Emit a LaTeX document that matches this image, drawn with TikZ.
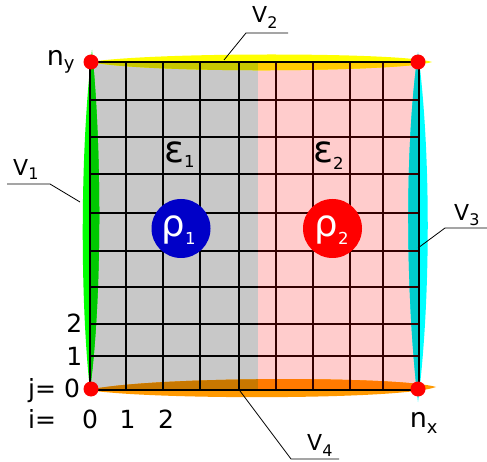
\documentclass[tikz,border=0pt]{standalone}
\usepackage{fontspec}
\setmainfont{DejaVu Sans}
\definecolor{cgray}{RGB}{200,200,200}
\definecolor{cpink}{RGB}{255,204,204}
\definecolor{cbrown}{RGB}{51,0,0}
\definecolor{gout}{RGB}{0,255,0}
\definecolor{ggray}{RGB}{0,200,0}
\definecolor{cout}{RGB}{0,255,255}
\definecolor{cpk}{RGB}{0,204,204}
\definecolor{yout}{RGB}{255,255,0}
\definecolor{ygray}{RGB}{200,200,0}
\definecolor{ypk}{RGB}{255,204,0}
\definecolor{oout}{RGB}{255,153,0}
\definecolor{ogray}{RGB}{200,120,0}
\definecolor{opk}{RGB}{255,122,0}
\definecolor{cblue}{RGB}{0,0,200}
\definecolor{cred}{RGB}{255,0,0}
\newcommand\fs[1]{\fontsize{#1}{#1}\selectfont}
\newcommand\mysub[3]{\raisebox{-#1pt}{\fs{#2}#3}}
\def\pgreen{(92,50) .. controls (80,150) and (80,300) .. (90,390) .. controls (102,300) and (102,150) .. (92,50) -- cycle}
\def\pcyan{(418,52) .. controls (404,150) and (406,300) .. (418,402) .. controls (431,300) and (431,150) .. (418,52) -- cycle}
\def\pyellow{(90,62) .. controls (150,52) and (400,52) .. (432,62) .. controls (400,72) and (150,74) .. (90,62) -- cycle}
\def\porange{(88,390) .. controls (150,376) and (400,376) .. (436,387) .. controls (400,400) and (150,400) .. (88,390) -- cycle}
\tikzset{
  gl/.style={line width=1.8pt, black},
  glp/.style={line width=1.8pt, cbrown},
  leader/.style={line width=0.8pt, black},
  lbl/.style={inner sep=0pt, anchor=base west},
  dot/.style={circle, fill=cred, minimum size=15pt, inner sep=0pt},
}
\begin{document}
\begin{tikzpicture}[x=1pt,y=-1pt]
\useasboundingbox (0,0) rectangle (487,462);
% regions
\fill[cgray] (90,62) rectangle (258,390);
\fill[cpink] (258,62) rectangle (418,390);
% bands
\fill[gout] \pgreen;
\fill[cout] \pcyan;
\fill[yout] \pyellow;
\fill[oout] \porange;
\begin{scope}
\clip (90,62) rectangle (258,390);
\fill[ggray] \pgreen;
\fill[ygray] \pyellow;
\fill[ogray] \porange;
\end{scope}
\begin{scope}
\clip (258,62) rectangle (418,390);
\fill[cpk] \pcyan;
\fill[ypk] \pyellow;
\fill[opk] \porange;
\end{scope}
% grid
\foreach \y in {100,137,174,213,251,287,324,356} {
  \draw[gl] (90,\y) -- (258,\y);
  \draw[glp] (258,\y) -- (418,\y);
}
\foreach \x in {126,163,200,239} \draw[gl] (\x,62) -- (\x,390);
\foreach \x in {276,313,350,383} \draw[glp] (\x,62) -- (\x,390);
\draw[gl] (90,62) -- (90,390);
\draw[gl] (419,62) -- (419,390);
\draw[gl] (90,62) -- (419,62);
\draw[gl] (90,390) -- (419,390);
% densities
\node[circle, fill=cblue, minimum size=59pt, inner sep=0pt] (rho1) at (181,228.5) {};
\node[circle, fill=cred, minimum size=59pt, inner sep=0pt] (rho2) at (332.5,228.5) {};
\node[lbl, text=white] (rho1t) at (161.5,237) {\fs{37}ρ\mysub{8}{16.5}{1}};
\node[lbl, text=white] (rho2t) at (314.5,237) {\fs{37}ρ\mysub{8}{16.5}{2}};
\node[lbl] (eps1) at (164,163) {\fs{37}ε\mysub{5}{16.5}{1}};
\node[lbl] (eps2) at (313,163) {\fs{37}ε\mysub{7}{16.5}{2}};
% corner dots
\node[dot] (c00) at (91,389) {};
\node[dot] (c10) at (418,389) {};
\node[dot] (c01) at (91,62) {};
\node[dot] (c11) at (418,62) {};
% corner labels
\node[lbl] (ny) at (46.6,66) {\fs{27}n\mysub{4}{18}{y}};
\node[lbl] (nx) at (409.6,427) {\fs{27}n\mysub{6}{18}{x}};
% index labels
\node[inner sep=0pt, anchor=base east] (j2) at (82.5,332) {\fs{25}2};
\node[inner sep=0pt, anchor=base east] (j1) at (82.5,365) {\fs{25}1};
\node[lbl] (j0) at (28,397) {\fs{25}j= 0};
\node[lbl] (ieq) at (28,428) {\fs{25}i=};
\node[inner sep=0pt, anchor=base] (i0) at (90,428) {\fs{25}0};
\node[inner sep=0pt, anchor=base] (i1) at (127.5,428) {\fs{25}1};
\node[inner sep=0pt, anchor=base] (i2) at (166,428) {\fs{25}2};
% V labels
\node[lbl] (V1) at (13,176) {\fs{22}V\mysub{4}{16}{1}};
\node[lbl] (V2) at (252,23) {\fs{22}V\mysub{6}{16}{2}};
\node[lbl] (V3) at (454,221) {\fs{22}V\mysub{5}{16}{3}};
\node[lbl] (V4) at (307,450) {\fs{22}V\mysub{6}{16}{4}};
% leaders
\coordinate (a1) at (7,184); \coordinate (b1) at (50,184); \coordinate (e1) at (80,202);
\coordinate (a2) at (288,33); \coordinate (b2) at (246,33); \coordinate (e2) at (224,60);
\coordinate (a3) at (487,228); \coordinate (b3) at (445,228); \coordinate (e3) at (418,248);
\coordinate (a4) at (339,459); \coordinate (b4) at (291,459); \coordinate (e4) at (240,391);
\draw[leader] (a1) -- (b1) -- (e1);
\draw[leader] (a2) -- (b2) -- (e2);
\draw[leader] (a3) -- (b3) -- (e3);
\draw[leader] (a4) -- (b4) -- (e4);
\end{tikzpicture}
\end{document}
